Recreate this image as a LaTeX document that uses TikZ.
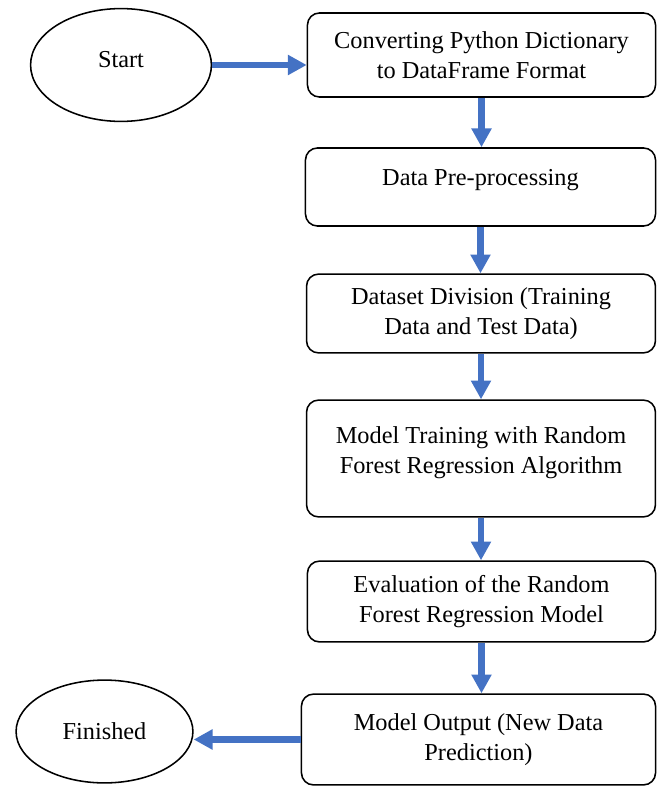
\documentclass[tikz,border=0pt]{standalone}
\usepackage{fontspec}
\setmainfont{Liberation Serif}
\usetikzlibrary{arrows.meta, shapes.geometric}
\definecolor{flowblue}{RGB}{68,114,196}

\begin{document}
\begin{tikzpicture}[x=0.025cm, y=-0.025cm,
        font=\fontsize{17.3}{21.3}\selectfont,
        stepbox/.style={draw, line width=1.1pt, rounded corners=0.3cm, align=center, inner sep=0pt},
        endpoint/.style={draw, ellipse, line width=1.1pt, inner sep=0pt},
        flow/.style={flowblue, line width=4.4pt, -{Triangle[length=0.47cm, width=0.48cm]}}]
        \useasboundingbox (0,0) rectangle (657,787);
        \node[endpoint, minimum width=4.52cm, minimum height=2.82cm, text depth=0.3cm] at (121, 65)      (start)  {Start};
        \node[stepbox, minimum width=8.7cm, minimum height=2.1cm] at (481.5, 55)      (convert)  {Converting Python Dictionary\\to DataFrame Format};
        \node[stepbox, minimum width=8.75cm, minimum height=1.95cm, text depth=0.48cm] at (480.5, 187)      (prep)  {Data Pre-processing};
        \node[stepbox, minimum width=8.72cm, minimum height=1.97cm] at (481, 313.5)      (split)  {Dataset Division (Training\\Data and Test Data)};
        \node[stepbox, minimum width=8.72cm, minimum height=2.92cm, text depth=0.43cm] at (481, 458.5)      (train)  {Model Training with Random\\Forest Regression Algorithm};
        \node[stepbox, minimum width=8.7cm, minimum height=2.02cm] at (481.5, 601.5)      (eval)  {Evaluation of the Random\\Forest Regression Model};
        \node[stepbox, minimum width=8.85cm, minimum height=2.27cm] at (478.5, 739.5)      (output)  {Model Output (New Data\\Prediction)};
        \node[endpoint, minimum width=4.42cm, minimum height=2.57cm] at (104.5, 731.5)      (finish)  {Finished};

        \draw[flow] (start.east) -- (start.east -| convert.west);
        \draw[flow] (convert.south) -- (convert.south |- prep.north);
        \draw[flow] (prep.south) -- (prep.south |- split.north);
        \draw[flow] (split.south) -- (split.south |- train.north);
        \draw[flow] (train.south) -- (train.south |- eval.north);
        \draw[flow] (eval.south) -- (eval.south |- output.north);
        \draw[flow] (output.west) -- (output.west -| finish.east);
    \end{tikzpicture}
\end{document}
